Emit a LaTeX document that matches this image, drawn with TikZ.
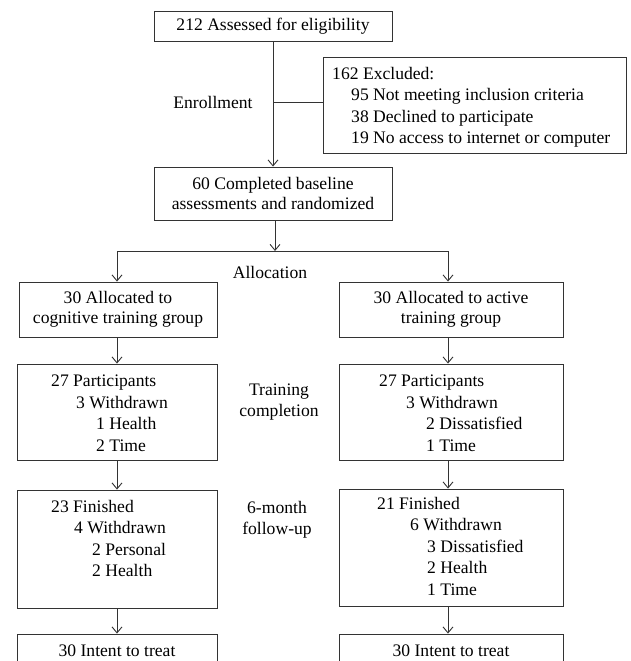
\documentclass[tikz,border=0pt]{standalone}
\usepackage{fontspec}
\setmainfont{Liberation Serif}
\usetikzlibrary{arrows.meta}
\begin{document}
\begin{tikzpicture}[x=1pt,y=-1pt,
  every node/.style={font=\fontsize{17.6}{19.5}\selectfont},
  box/.style={draw=black!80, line width=0.9pt, rectangle, inner sep=0pt, align=center},
  lst/.style={inner sep=0pt, anchor=north west, align=left, font=\fontsize{17.6}{21.5}\selectfont},
  lab/.style={inner sep=0pt, align=center, font=\fontsize{17.6}{20.5}\selectfont},
  conn/.style={draw=black!80, line width=0.9pt},
  arr/.style={conn, -{Straight Barb[length=6pt,width=10pt]}}]
\clip (0,0) rectangle (630,661);
% boxes
\node[box, minimum width=238pt, minimum height=30pt] (top) at (273,26) {212 Assessed for eligibility};
\node[box, minimum width=303pt, minimum height=96pt] (excl) at (474.5,105) {};
\node[lst] (excltxt) at (332,67) {162 Excluded:\\\hspace*{19pt}95 Not meeting inclusion criteria\\\hspace*{19pt}38 Declined to participate\\\hspace*{19pt}19 No access to internet or computer};
\node[box, minimum width=238pt, minimum height=53pt] (base) at (273,193.5) {60 Completed baseline\\assessments and randomized};
\node[box, minimum width=198pt, minimum height=55pt] (a1l) at (118,309.5) {30 Allocated to\\cognitive training group};
\node[box, minimum width=224pt, minimum height=55pt] (a1r) at (451,309.5) {30 Allocated to active\\training group};
\node[box, minimum width=200pt, minimum height=96pt] (b2l) at (117,412) {};
\node[box, minimum width=224pt, minimum height=96pt] (b2r) at (451,412) {};
\node[lst] (b2ltxt) at (51,375) {27 Participants\\\hspace*{25pt}3 Withdrawn\\\hspace*{45pt}1 Health\\\hspace*{45pt}2 Time};
\node[lst] (b2rtxt) at (379,375) {27 Participants\\\hspace*{27pt}3 Withdrawn\\\hspace*{47pt}2 Dissatisfied\\\hspace*{47pt}1 Time};
\node[box, minimum width=200pt, minimum height=118pt] (c3l) at (117,549) {};
\node[box, minimum width=224pt, minimum height=117pt] (c3r) at (451,547.5) {};
\node[lst] (c3ltxt) at (51,500) {23 Finished\\\hspace*{23pt}4 Withdrawn\\\hspace*{41pt}2 Personal\\\hspace*{41pt}2 Health};
\node[lst] (c3rtxt) at (377,497) {21 Finished\\\hspace*{33pt}6 Withdrawn\\\hspace*{50pt}3 Dissatisfied\\\hspace*{50pt}2 Health\\\hspace*{50pt}1 Time};
\node[box, minimum width=200pt, minimum height=34pt] (d4l) at (117,651) {30 Intent to treat};
\node[box, minimum width=224pt, minimum height=34pt] (d4r) at (451,651) {30 Intent to treat};
% labels
\node[lab] (enr) at (213,102) {Enrollment};
\node[lab] (alloc) at (270,272) {Allocation};
\node[lab] (train) at (279,402) {Training\\completion};
\node[lab] (fup) at (277,520) {6-month\\follow-up};
% connectors
\draw[arr] (top) -- (base);
\coordinate (j1) at (273,102);
\draw[conn] (j1) -- (j1 -| excl.west);
\coordinate (split) at (275,251);
\coordinate (sl) at (117,251);
\coordinate (sr) at (448,251);
\draw[arr] (base.south -| split) -- (split);
\draw[conn] (sl) -- (sr);
\draw[arr] (sl) -- (sl |- a1l.north);
\draw[arr] (sr) -- (sr |- a1r.north);
\draw[arr] (a1l.south -| sl) -- (sl |- b2l.north);
\draw[arr] (a1r.south -| sr) -- (sr |- b2r.north);
\draw[arr] (b2l.south -| sl) -- (sl |- c3l.north);
\draw[arr] (b2r.south -| sr) -- (sr |- c3r.north);
\draw[arr] (c3l.south -| sl) -- (sl |- d4l.north);
\draw[arr] (c3r.south -| sr) -- (sr |- d4r.north);
\end{tikzpicture}
\end{document}
